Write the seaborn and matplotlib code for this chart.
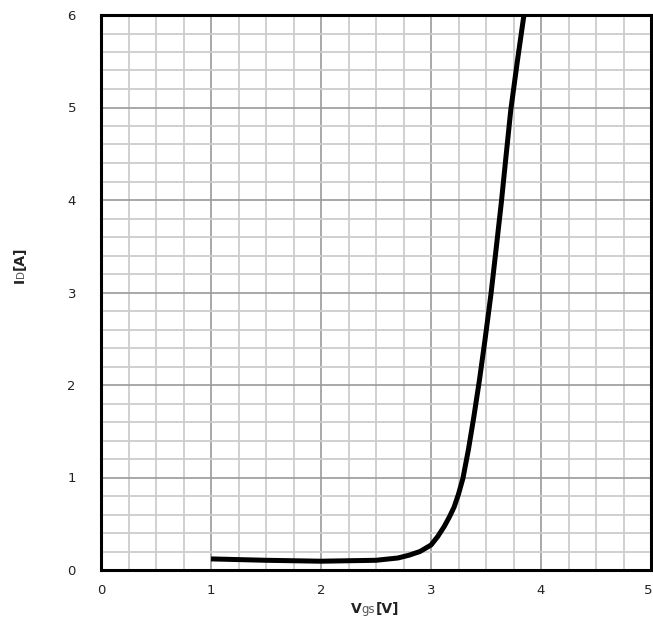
import matplotlib
matplotlib.use("Agg")
import matplotlib.pyplot as plt
import matplotlib.transforms as mtransforms
from matplotlib.ticker import MultipleLocator
import seaborn as sns
import pandas as pd

# Transfer characteristic: drain current vs gate-source voltage
vgs = [1.0, 1.5, 2.0, 2.5, 2.7, 2.8, 2.9, 3.0, 3.06, 3.12, 3.17, 3.21, 3.25,
       3.29, 3.34, 3.39, 3.44, 3.49, 3.546, 3.59, 3.64, 3.68, 3.725, 3.785,
       3.845]
id_a = [0.12, 0.105, 0.095, 0.105, 0.13, 0.16, 0.20, 0.27, 0.36, 0.47, 0.58,
        0.68, 0.82, 0.99, 1.30, 1.66, 2.05, 2.48, 2.99, 3.45, 3.98, 4.45, 4.97,
        5.5, 6.0]

x_ticks = [0, 1, 2, 3, 4, 5]
y_ticks = [0, 1, 2, 3, 4, 5, 6]

df = pd.DataFrame({"Vgs": vgs, "Id": id_a})

sns.set_style("white")
plt.rcParams["font.family"] = ["DejaVu Sans"]

fig = plt.figure(figsize=(6.53, 6.21), dpi=100)
ax = fig.add_axes([101 / 653, 51 / 621, 550 / 653, 555 / 621])

sns.lineplot(data=df, x="Vgs", y="Id", ax=ax, color="black", linewidth=3.6,
             sort=False, estimator=None, solid_capstyle="butt",
             solid_joinstyle="round", zorder=5)

ax.set_xlim(0, 5)
ax.set_ylim(0, 6)
ax.set_xticks(x_ticks)
ax.set_yticks(y_ticks)
ax.set_xticklabels([str(v) for v in x_ticks])
ax.set_yticklabels([str(v) for v in y_ticks])
ax.xaxis.set_minor_locator(MultipleLocator(0.25))
ax.yaxis.set_minor_locator(MultipleLocator(0.2))
ax.grid(which="minor", color="#cdcdcd", linewidth=1.3, zorder=0)
ax.grid(which="major", color="#9a9a9a", linewidth=1.2, zorder=1)
ax.set_axisbelow(True)
ax.tick_params(which="both", length=0)
ax.tick_params(axis="x", pad=10, labelsize=9.5, colors="#222222")
ax.tick_params(axis="y", pad=18, labelsize=9.5, colors="#222222")
ax.set_xlabel("")
ax.set_ylabel("")

# keep the last x tick label inside the canvas
last = ax.get_xticklabels()[-1]
last.set_transform(last.get_transform() +
                   mtransforms.ScaledTranslation(-3 / 100, 0, fig.dpi_scale_trans))

for side in ["left", "right", "top", "bottom"]:
    ax.spines[side].set_visible(True)
    ax.spines[side].set_color("black")
    ax.spines[side].set_linewidth(2.2)
    ax.spines[side].set_zorder(6)

# Axis titles built from pieces: bold symbol, small plain subscript, bold unit
fig.canvas.draw()
renderer = fig.canvas.get_renderer()


def piece_widths(pieces):
    widths = []
    for txt, size, weight, color in pieces:
        t = fig.text(0, 0, txt, fontsize=size, fontweight=weight)
        widths.append(t.get_window_extent(renderer).width)
        t.remove()
    return widths


x_pieces = [("V", 10, "bold", "#222222"), ("gs", 8.5, "normal", "#555555"),
            ("[V]", 10, "bold", "#222222")]
w = piece_widths(x_pieces)
cx, base_y = 375, 621 - 613
x0 = cx - sum(w) / 2
for (txt, size, weight, color), wi in zip(x_pieces, w):
    fig.text(x0 / 653, base_y / 621, txt, fontsize=size, fontweight=weight,
             color=color, ha="left", va="baseline")
    x0 += wi

y_pieces = [("I", 10, "bold", "#222222"), ("D", 7.5, "normal", "#555555"),
            ("[A]", 10, "bold", "#222222")]
w = piece_widths(y_pieces)
cy, base_x = 621 - 265, 24
y0 = cy - sum(w) / 2
for (txt, size, weight, color), wi in zip(y_pieces, w):
    fig.text(base_x / 653, y0 / 621, txt, fontsize=size, fontweight=weight,
             color=color, rotation=90, rotation_mode="anchor",
             ha="left", va="baseline")
    y0 += wi

fig.savefig("out.png", dpi=100)
